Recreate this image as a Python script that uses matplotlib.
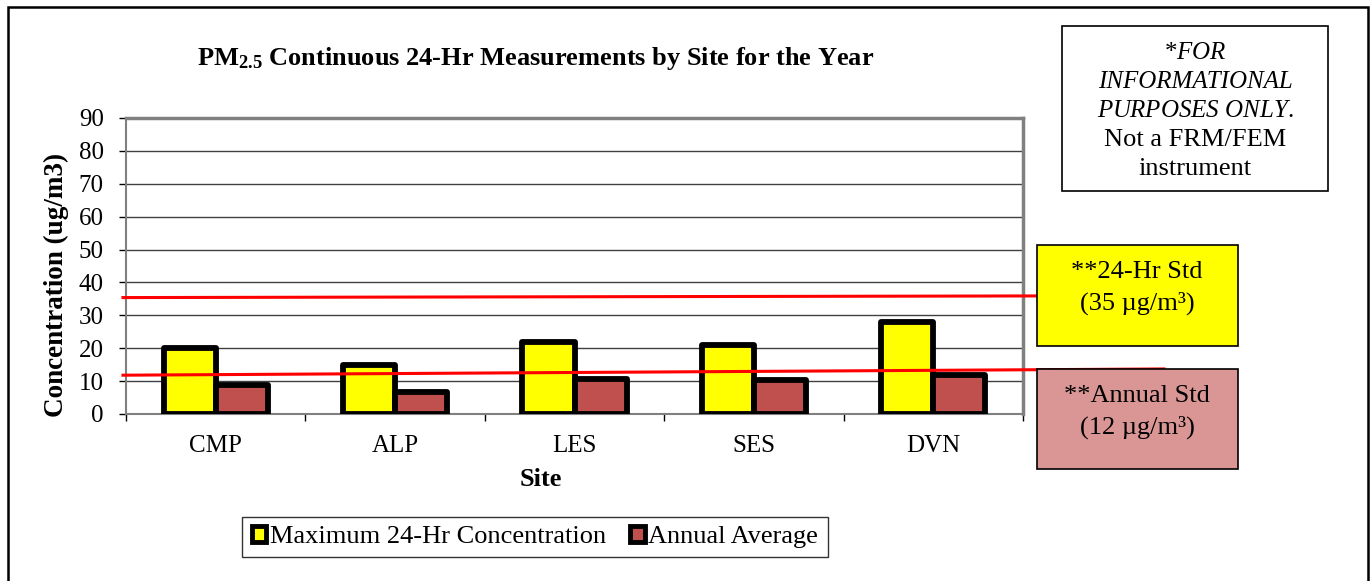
import matplotlib
matplotlib.use("Agg")
import matplotlib.pyplot as plt
from matplotlib.patches import Rectangle
from matplotlib.lines import Line2D

# ---- data ----
sites = ["CMP", "ALP", "LES", "SES", "DVN"]
max_24hr = [20, 15, 22, 21, 28]
annual_avg = [8.8, 6.7, 10.5, 10.2, 12.0]
std_24hr = 35
std_annual = 12
series_labels = ["Maximum 24-Hr Concentration", "Annual Average"]
yticks = list(range(0, 100, 10))

plt.rcParams['font.family'] = ['Liberation Serif', 'DejaVu Serif']
plt.rcParams['mathtext.fontset'] = 'custom'
plt.rcParams['mathtext.rm'] = 'Liberation Serif'
plt.rcParams['mathtext.bf'] = 'Liberation Serif:bold'
plt.rcParams['mathtext.it'] = 'Liberation Serif:italic'

W, H = 1372, 581
fig = plt.figure(figsize=(W / 100, H / 100), dpi=100)


def fx(px):
    return px / W


def fy(py):
    return 1 - py / H


FS = 18
FS2 = 19
YELLOW = "#FFFF00"
RED = "#C0504D"
PINK = "#DA9694"

# outer frame
fig.patches.append(Rectangle((fx(8), fy(600)), fx(1368) - fx(8), fy(7) - fy(600),
                             transform=fig.transFigure, fill=False, edgecolor="black",
                             linewidth=1.8, clip_on=False))

ax = fig.add_axes([fx(126), fy(414), fx(1023) - fx(126), fy(118) - fy(414)])
ax.set_xlim(-0.5, len(sites) - 0.5)
ax.set_ylim(0, 90)

x = list(range(len(sites)))
bw = 0.29
b1 = ax.bar([i - bw / 2 for i in x], max_24hr, width=bw, color=YELLOW,
            edgecolor="black", linewidth=4.2, zorder=3, label=series_labels[0])
b2 = ax.bar([i + bw / 2 for i in x], annual_avg, width=bw, color=RED,
            edgecolor="black", linewidth=4.2, zorder=3, label=series_labels[1])
for p in list(b1) + list(b2):
    p.set_joinstyle("round")

ax.set_yticks(yticks)
ax.set_yticklabels([str(v) for v in yticks], fontsize=FS)
ax.tick_params(axis="y", direction="out", length=5, width=1, color="black", pad=11)
for v in yticks[1:-1]:
    ax.axhline(v, color="#404040", linewidth=1, zorder=1)

ax.set_xticks(x)
ax.set_xticklabels(sites, fontsize=FS)
ax.tick_params(axis="x", which="major", length=0, pad=15)
ax.set_xticks([i - 0.5 for i in range(len(sites) + 1)], minor=True)
ax.tick_params(axis="x", which="minor", direction="out", length=5, width=1, color="black")

for s in ["left", "bottom"]:
    ax.spines[s].set_color("#808080")
    ax.spines[s].set_linewidth(1.5)
for s in ["top", "right"]:
    ax.spines[s].set_color("#808080")
    ax.spines[s].set_linewidth(2.5)

ax.set_ylabel("Concentration (ug/m3)", fontsize=19.5, fontweight="bold")
ax.yaxis.set_label_coords(-0.064, 0.436)

# standard lines (slightly tilted like the hand-drawn original)
cat_px = (1023 - 126) / len(sites)
x_left = -0.5 - 3 / cat_px
x_end_24 = (1037 - 126) / cat_px - 0.5
x_end_an = (1164 - 126) / cat_px - 0.5
ax.add_line(Line2D([x_left, x_end_24], [std_24hr + 0.4, std_24hr + 0.9], color="#FF0000",
                   linewidth=2.2, clip_on=False, zorder=5))
ax.add_line(Line2D([x_left, x_end_an], [std_annual - 0.2, std_annual + 1.7], color="#FF0000",
                   linewidth=2.2, clip_on=False, zorder=5))

# title and x label
fig.text(fx(536), fy(58), r"PM$_{\mathbf{2.5}}$ Continuous 24-Hr Measurements by Site for the Year",
         fontsize=19, fontweight="bold", ha="center", va="center")
fig.text(fx(541), fy(479), "Site", fontsize=FS2, fontweight="bold", ha="center", va="center")


def box(x0, y0, x1, y1, fc):
    fig.patches.append(Rectangle((fx(x0), fy(y1)), fx(x1) - fx(x0), fy(y0) - fy(y1),
                                 transform=fig.transFigure, facecolor=fc, edgecolor="black",
                                 linewidth=1.2, zorder=6))


box(1037, 245, 1238, 346, YELLOW)
fig.text(fx(1137), fy(272), "**24-Hr Std", fontsize=FS2, ha="center", va="center", zorder=7)
fig.text(fx(1137), fy(303), "(35 µg/m³)", fontsize=FS2, ha="center", va="center", zorder=7)

box(1037, 369, 1238, 469, PINK)
fig.text(fx(1137), fy(396), "**Annual Std", fontsize=FS2, ha="center", va="center", zorder=7)
fig.text(fx(1137), fy(427), "(12 µg/m³)", fontsize=FS2, ha="center", va="center", zorder=7)

box(1062, 26, 1328, 191, "white")
fig.text(fx(1195), fy(53), r"*$\mathit{FOR}$", fontsize=FS, ha="center", va="center", zorder=7)
fig.text(fx(1195), fy(82), "INFORMATIONAL", fontsize=FS, style="italic", ha="center", va="center", zorder=7)
fig.text(fx(1195), fy(111), r"$\mathit{PURPOSES\ ONLY}$.", fontsize=FS, ha="center", va="center", zorder=7)
fig.text(fx(1195), fy(140), "Not a FRM/FEM", fontsize=FS2, ha="center", va="center", zorder=7)
fig.text(fx(1195), fy(169), "instrument", fontsize=FS2, ha="center", va="center", zorder=7)

# legend
handles = [Rectangle((0, 0), 1, 1, facecolor=YELLOW, edgecolor="black", linewidth=3.5),
           Rectangle((0, 0), 1, 1, facecolor=RED, edgecolor="black", linewidth=3.5)]
for h in handles:
    h.set_joinstyle("round")
leg = fig.legend(handles, series_labels, loc="center", bbox_to_anchor=(fx(535), fy(537)),
                 ncol=2, fontsize=19, frameon=True, fancybox=False, edgecolor="black",
                 handlelength=0.55, handleheight=0.55, handletextpad=0.15, columnspacing=0.9,
                 borderpad=0.35, borderaxespad=0)
leg.get_frame().set_linewidth(1.0)

fig.savefig("out.png", dpi=100)
